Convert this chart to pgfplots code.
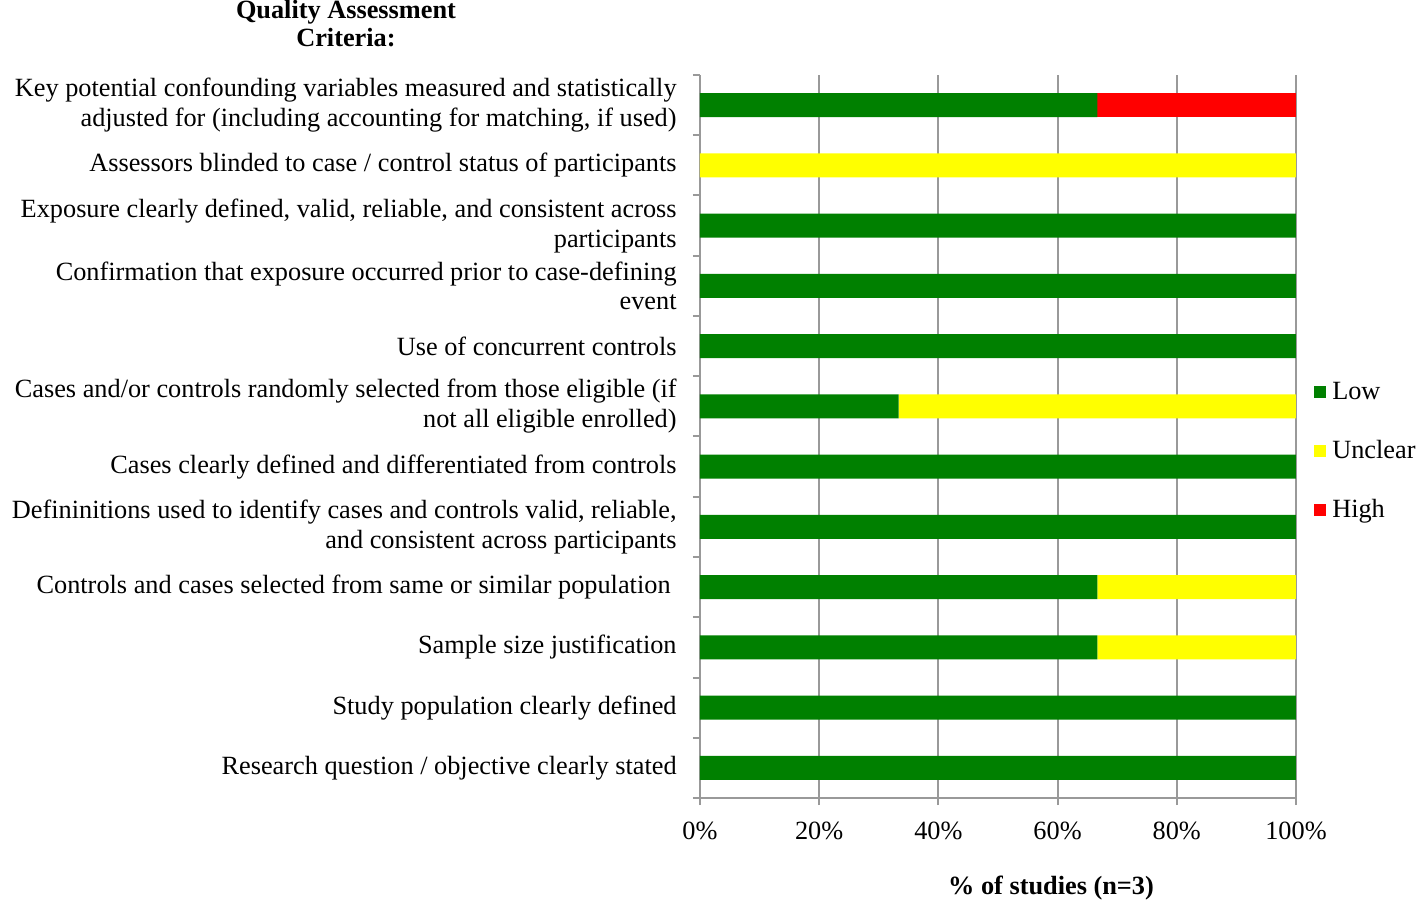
\documentclass[border=0pt]{standalone}
\usepackage{pgfplots}
\pgfplotsset{compat=1.18}
\usepackage{pgfplotstable}
\usepackage{fontspec}
\setmainfont{Liberation Serif}
\definecolor{cLow}{RGB}{0,128,0}
\definecolor{cUnc}{RGB}{255,255,0}
\definecolor{cHigh}{RGB}{255,0,0}
\pgfplotstableread{
y low unclear high
0 100 0 0
1 100 0 0
2 66.67 33.33 0
3 66.67 33.33 0
4 100 0 0
5 100 0 0
6 33.33 66.67 0
7 100 0 0
8 100 0 0
9 100 0 0
10 0 100 0
11 66.67 0 33.33
}\datatable
\begin{document}
\fontsize{13.2}{15}\selectfont
\begin{tikzpicture}
\useasboundingbox (-350bp,-51.5bp) rectangle (359bp,399bp);
\begin{axis}[
  at={(0,0)}, anchor=south west,
  scale only axis,
  width=298bp, height=361.5bp,
  xbar stacked,
  bar width=12bp,
  xmin=0, xmax=100,
  ymin=-0.5, ymax=11.5,
  axis lines=left,
  axis line style={-, draw=gray!80, line width=1bp},
  xtick={0,20,40,60,80,100},
  xticklabels={0\%,20\%,40\%,60\%,80\%,100\%},
  xmajorgrids,
  grid style={draw=gray!80, line width=1bp},
  x tick style={draw=gray!80, line width=1bp},
  tick align=outside,
  major tick length=3.5bp,
  minor tick length=3.5bp,
  ytick={0,...,11},
  minor ytick={-0.5,0.5,...,11.5},
  y tick style={draw=none},
  minor y tick style={draw=gray!80, line width=1bp},
  yticklabels={
    {Research question / objective clearly stated},
    {Study population clearly defined},
    {Sample size justification},
    {Controls and cases selected from same or similar population\hspace*{3bp}},
    {Defininitions used to identify cases and controls valid, reliable,\\and consistent across participants},
    {Cases clearly defined and differentiated from controls},
    {Cases and/or controls randomly selected from those eligible (if\\not all eligible enrolled)},
    {Use of concurrent controls},
    {Confirmation that exposure occurred prior to case-defining\\event},
    {Exposure clearly defined, valid, reliable, and consistent across\\participants},
    {Assessors blinded to case / control status of participants},
    {Key potential confounding variables measured and statistically\\adjusted for (including accounting for matching, if used)}
  },
  yticklabel style={align=right, inner sep=0pt, xshift=-8bp, font=\fontsize{13.2}{15}\selectfont},
  xticklabel style={font=\fontsize{13.2}{15}\selectfont, yshift=-4bp},
  title={Quality Assessment\\Criteria:},
  title style={at={(axis description cs:-0.594,1.055)}, anchor=center, align=center, font=\bfseries\fontsize{13.2}{14}\selectfont},
  xlabel={\% of studies (n=3)},
  xlabel style={at={(axis description cs:0.589,-0.125)}, anchor=center, font=\bfseries\fontsize{13.2}{15}\selectfont},
  legend style={at={(axis description cs:1.030,0.479)}, anchor=west, draw=none, fill=none, inner sep=0pt, row sep=16.5bp, font=\fontsize{13.2}{15}\selectfont, nodes={inner sep=1bp}},
  legend cell align=left,
  legend image code/.code={\fill[#1] (0bp,-3bp) rectangle (6bp,3bp);},
  legend style={/tikz/every odd column/.append style={column sep=2bp}},
]
\addplot[fill=cLow, draw=none] table[x=low, y=y] {\datatable};
\addplot[fill=cUnc, draw=none] table[x=unclear, y=y] {\datatable};
\addplot[fill=cHigh, draw=none] table[x=high, y=y] {\datatable};
\legend{Low, Unclear, High}
\end{axis}
\end{tikzpicture}
\end{document}
